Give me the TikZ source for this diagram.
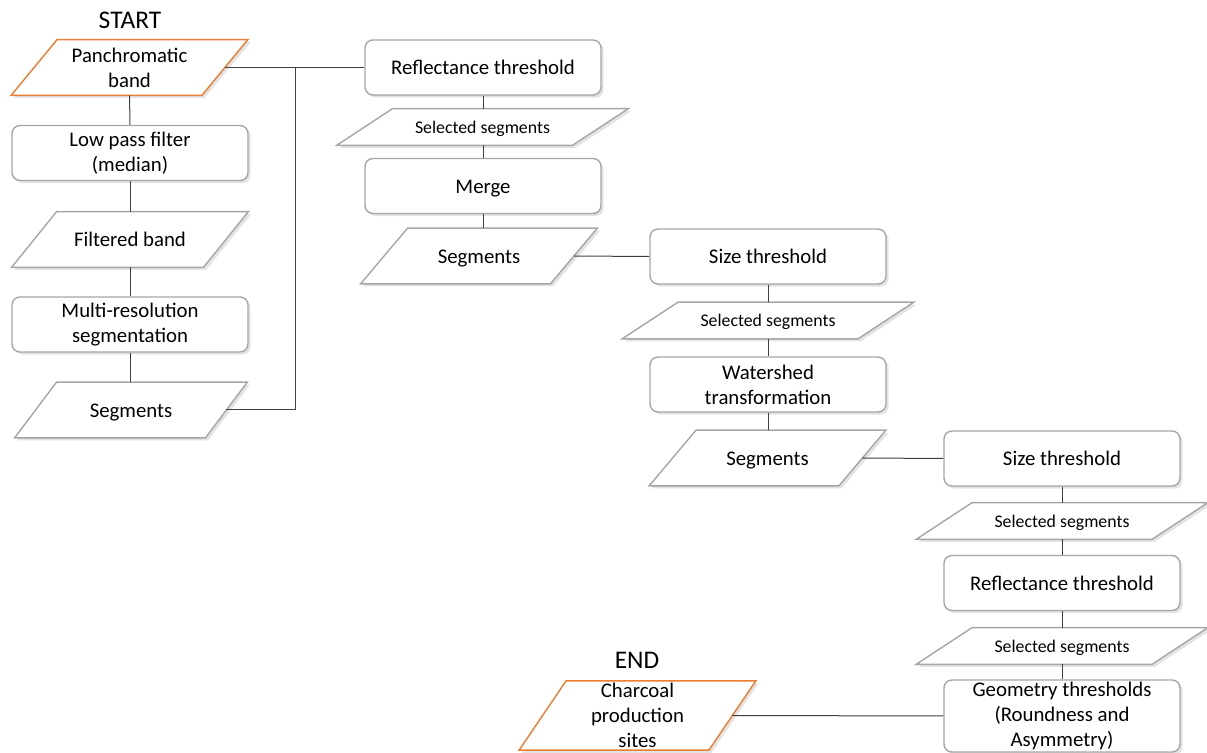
\documentclass[tikz,border=0pt]{standalone}
\usepackage{fontspec}
\setmainfont{Carlito}
\usetikzlibrary{shadows,backgrounds}
\definecolor{edgegrey}{HTML}{A6A6A6}
\definecolor{ioorange}{HTML}{ED7D31}
\definecolor{linkgrey}{HTML}{404040}
\newcommand\boxfont{\fontsize{10.4}{12.5}\selectfont}
\newcommand\selfont{\fontsize{8.9}{10.7}\selectfont}
\tikzset{
	base/.style={align=center, inner sep=1pt, font=\boxfont},
	shade/.style={drop shadow={shadow xshift=1.3pt, shadow yshift=-1.3pt, opacity=.22}},
	procbox/.style={base, draw=edgegrey, line width=.7pt, fill=white, rounded corners=4pt,
		minimum width=118pt, minimum height=27.5pt, shade},
	databox/.style={base, minimum width=118pt, minimum height=27.5pt},
	selbox/.style={base, minimum width=145.5pt, minimum height=18pt, font=\selfont,
		text height=8.5pt, text depth=2.4pt},
	oneline/.style={text height=9.9pt, text depth=2.8pt},
	outline/.style={draw=edgegrey, line width=.7pt, fill=white, shade},
	title/.style={font=\fontsize{12.7}{15}\selectfont},
	link/.style={draw=linkgrey, line width=.5pt}
}
\begin{document}
\begin{tikzpicture}[x=.5pt, y=-.5pt]
	\useasboundingbox (0,0) rectangle (1207,753);

	\node[title] (start) at(130, 20){START};
	\node[databox] (pan) at(129.5, 67.5){Panchromatic\\band};
	\node[procbox] (lowpass) at(130, 153){Low pass filter\\(median)};
	\node[databox, oneline] (filt) at(130, 239.5){Filtered band};
	\node[procbox] (multires) at(130, 324.5){Multi-resolution\\segmentation};
	\node[databox, oneline, minimum width=116pt] (segA) at(131, 410){Segments};

	\node[procbox, oneline] (reflA) at(483, 67.5){Reflectance threshold};
	\node[selbox] (selA) at(482.5, 127){Selected segments};
	\node[procbox, oneline] (merge) at(483, 186){Merge};
	\node[databox, oneline] (segB) at(479, 256){Segments};

	\node[procbox, oneline] (sizeA) at(768, 256.5){Size threshold};
	\node[selbox] (selB) at(768, 320.5){Selected segments};
	\node[procbox] (water) at(768, 384.5){Watershed\\transformation};
	\node[databox, oneline] (segC) at(767.5, 458){Segments};

	\node[procbox, oneline] (sizeB) at(1062, 458.5){Size threshold};
	\node[selbox] (selC) at(1062, 521){Selected segments};
	\node[procbox, oneline] (reflB) at(1062, 583){Reflectance threshold};
	\node[selbox] (selD) at(1062, 646){Selected segments};
	\node[procbox, minimum height=36pt] (geom) at(1062, 716){Geometry thresholds\\(Roundness and\\Asymmetry)};

	\node[title] (finish) at(637, 660){END};
	\node[databox, minimum height=33.5pt] (charcoal) at(637.5, 715.5){Charcoal\\production\\sites};

	\begin{scope}[on background layer]
		\foreach \n/\s/\c in {pan/23/ioorange, filt/22.5/edgegrey, segA/21/edgegrey,
			selA/28/edgegrey, segB/23.5/edgegrey, selB/28/edgegrey, segC/23.5/edgegrey,
			selC/28/edgegrey, selD/28/edgegrey, charcoal/23.5/ioorange}
			\path[outline, draw=\c] ([xshift=\s pt]\n.north west) -- (\n.north east)
				-- ([xshift=-\s pt]\n.south east) -- (\n.south west) -- cycle;
	\end{scope}

	\coordinate (bus) at(295, 67.5);

	\draw[link] (pan.south) to (lowpass.north);
	\draw[link] (lowpass.south) to (filt.north);
	\draw[link] (filt.south) to (multires.north);
	\draw[link] (multires.south) to (multires.south |- segA.north);
	\draw[link] ([xshift=-11.5pt]pan.east) to (reflA.west);
	\draw[link] ([xshift=-10.5pt]segA.east) -| (bus);

	\draw[link] (reflA.south) to (reflA.south |- selA.north);
	\draw[link] (reflA.south |- selA.south) to (merge.north);
	\draw[link] (merge.south) to (merge.south |- segB.north);
	\draw[link] ([xshift=-11.75pt]segB.east) to (sizeA.west);

	\draw[link] (sizeA.south) to (selB.north);
	\draw[link] (selB.south) to (water.north);
	\draw[link] (water.south) to (water.south |- segC.north);
	\draw[link] ([xshift=-11.75pt]segC.east) to (sizeB.west);

	\draw[link] (sizeB.south) to (selC.north);
	\draw[link] (selC.south) to (reflB.north);
	\draw[link] (reflB.south) to (selD.north);
	\draw[link] (selD.south) to (geom.north);
	\draw[link] ([xshift=-11.75pt]charcoal.east) to (geom.west);
\end{tikzpicture}
\end{document}
